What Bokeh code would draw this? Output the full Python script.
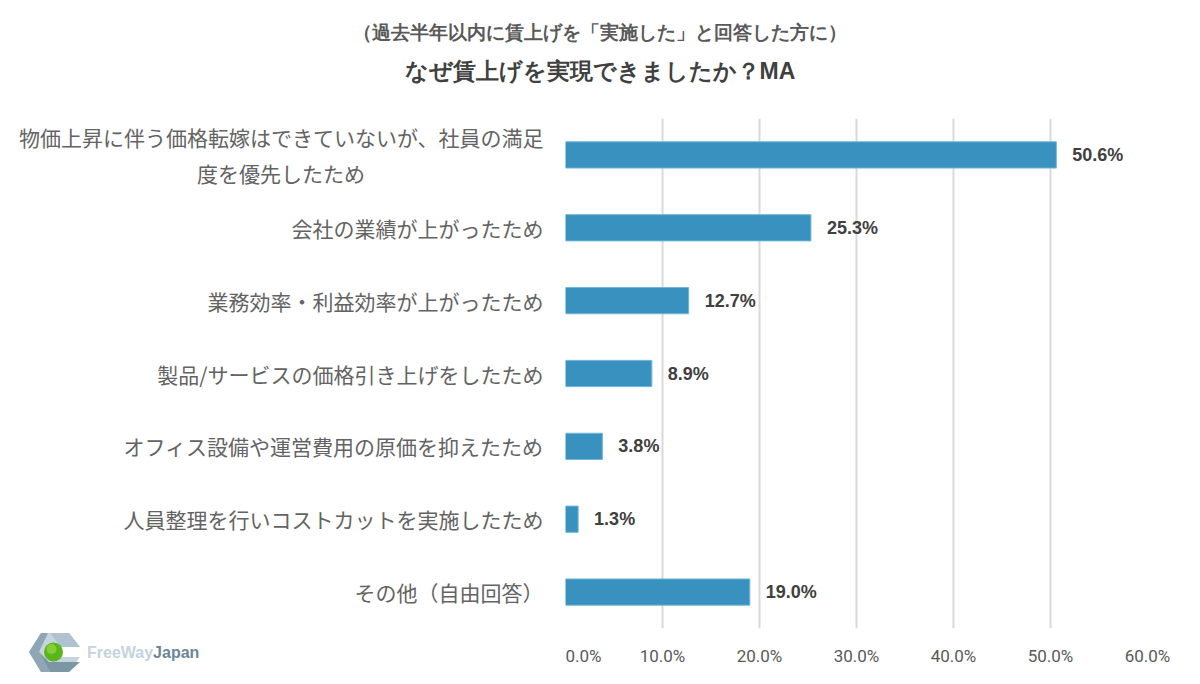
from bokeh.plotting import figure
from bokeh.layouts import column, row
from bokeh.models import Range1d, FixedTicker, ColumnDataSource, Div
from bokeh.core.properties import value
from bokeh.embed import file_html
from bokeh.resources import INLINE
from html import escape

# Survey data
subtitle = "（過去半年以内に賃上げを「実施した」と回答した方に）"
title = "なぜ賃上げを実現できましたか？MA"
categories = [
    "物価上昇に伴う価格転嫁はできていないが、社員の満足\n度を優先したため",
    "会社の業績が上がったため",
    "業務効率・利益効率が上がったため",
    "製品/サービスの価格引き上げをしたため",
    "オフィス設備や運営費用の原価を抑えたため",
    "人員整理を行いコストカットを実施したため",
    "その他（自由回答）",
]
values = [50.6, 25.3, 12.7, 8.9, 3.8, 1.3, 19.0]
x_ticks = [0, 10, 20, 30, 40, 50, 60]
brand = ["FreeWay", "Japan"]

W, H = 1200, 684
FL, FR, FT, FB = 565, 1147, 118, 628   # plot frame edges on the page
BAND = 54                               # strip under the chart: tick labels and logo

JP = "Noto Sans CJK JP"
BAR = "#3891be"
GRID = "#d9d9d9"
RESET = {"margin": "0", "padding": "0", "overflow": "hidden"}

# ---- heading strip -------------------------------------------------------
head_svg = (
    f'<svg xmlns="http://www.w3.org/2000/svg" width="{W}" height="{FT}" style="display:block">'
    f'<text x="{W/2}" y="32" text-anchor="middle" dominant-baseline="central" '
    f'font-family="\'{JP}\', sans-serif" font-weight="bold" font-size="19px" '
    f'fill="#595959">{escape(subtitle)}</text>'
    f'<text x="{W/2}" y="71" text-anchor="middle" dominant-baseline="central" '
    f'font-family="\'{JP}\', sans-serif" font-weight="bold" font-size="23px" '
    f'fill="#404040">{escape(title)}</text>'
    '</svg>'
)
head = Div(text=head_svg, width=W, height=FT, styles=RESET)

# ---- bar chart -----------------------------------------------------------
p = figure(width=W, height=FB - FT + 2, output_backend="svg", toolbar_location=None,
           x_range=Range1d(0, 60), y_range=Range1d(len(categories) - 0.5, -0.5),
           min_border_left=FL, min_border_right=W - FR,
           min_border_top=0, min_border_bottom=2)
p.outline_line_color = None
p.background_fill_color = "white"
p.border_fill_color = "white"

p.xaxis.visible = False
p.xgrid.ticker = FixedTicker(ticks=x_ticks)
p.xgrid.grid_line_color = GRID
p.xgrid.grid_line_width = 2
p.ygrid.visible = False


def centred_lines(label):
    # pad continuation lines so they sit centred under the first line
    lines = label.split("\n")
    out = [lines[0]]
    for ln in lines[1:]:
        pad = (len(lines[0]) - len(ln)) / 2
        out.append(ln + "\u3000" * int(pad) + ("\u2002" if pad % 1 else ""))
    return "\n".join(out)


idx = list(range(len(categories)))
ya = p.yaxis[0]
ya.ticker = FixedTicker(ticks=idx)
ya.major_label_overrides = {i: centred_lines(c) for i, c in zip(idx, categories)}
ya.axis_line_color = None
ya.major_tick_line_color = None
ya.minor_tick_line_color = None
ya.major_tick_out = 0
ya.major_label_standoff = 22
ya.major_label_text_font = JP
ya.major_label_text_font_size = "21px"
ya.major_label_text_color = "#636363"
ya.major_label_text_line_height = 1.2

src = ColumnDataSource(dict(y=idx, v=values, lab=[f"{v:.1f}%" for v in values]))
p.hbar(y="y", right="v", left=0, height=0.36, source=src,
       fill_color=BAR, line_color="#6fb6d8", line_width=1)
p.text(x="v", y="y", text="lab", source=src, x_offset=16,
       text_baseline="middle", text_align="left",
       text_font=value("Liberation Sans"), text_font_style="bold",
       text_font_size="18px", text_color="#404040")

# ---- percentage axis (shares the bar chart's x range) --------------------
ax = figure(width=W - FL, height=BAND, output_backend="svg", toolbar_location=None,
            x_range=p.x_range, y_range=Range1d(0, 1), y_axis_location=None,
            min_border_left=0, min_border_right=W - FR,
            min_border_top=0, min_border_bottom=BAND - 4)
ax.outline_line_color = None
ax.background_fill_color = "white"
ax.border_fill_color = "white"
ax.xgrid.visible = False
ax.ygrid.visible = False
xa = ax.xaxis[0]
xa.ticker = FixedTicker(ticks=x_ticks)
xa.major_label_overrides = {t: f"{t:.1f}%" for t in x_ticks}
xa.axis_line_color = None
xa.major_tick_line_color = None
xa.minor_tick_line_color = None
xa.major_tick_out = 0
xa.major_label_standoff = 11
xa.major_label_text_font = "Roboto"
xa.major_label_text_font_size = "17px"
xa.major_label_text_color = "#595959"

# ---- logo (drawn in the strip's own pixel coordinates) -------------------
Y0 = FB + 2


def pts(xs, ys):
    return " ".join(f"{x},{y - Y0}" for x, y in zip(xs, ys))


logo_shapes = [
    ([29, 41, 69, 80, 58, 58, 80, 69, 41], [652, 633, 633, 647, 647, 657, 657, 672, 672], "#c6d4dd"),
    ([29, 41, 48, 39, 50, 41], [652, 633, 633, 652, 672, 672], "#8ea6b5"),
    ([39, 49, 80, 69, 50], [652, 662, 662, 672, 672], "#7c96a6"),
    ([50, 69, 80, 61], [633, 633, 647, 647], "#aec2cf"),
]
logo_svg = [f'<svg xmlns="http://www.w3.org/2000/svg" width="{FL}" height="{BAND}" style="display:block">']
for xs, ys, col in logo_shapes:
    logo_svg.append(f'<polygon points="{pts(xs, ys)}" fill="{col}"/>')
logo_svg.append(f'<circle cx="53.5" cy="{652 - Y0}" r="9.5" fill="#5db51d"/>')
logo_svg.append(f'<circle cx="51.5" cy="{649 - Y0}" r="5" fill="#8fd63c" opacity="0.8"/>')
logo_svg.append(
    f'<text x="87" y="{652 - Y0}" dominant-baseline="central" '
    f'font-family="\'Liberation Sans\', sans-serif" font-weight="bold" font-size="16px">'
    f'<tspan fill="#c4d3dd">{brand[0]}</tspan><tspan fill="#6b8697">{brand[1]}</tspan></text>'
)
logo_svg.append("</svg>")
logo = Div(text="".join(logo_svg), width=FL, height=BAND, styles=RESET)

page = column(head, p, row(logo, ax))
open("out.html", "w").write(file_html(page, INLINE))
